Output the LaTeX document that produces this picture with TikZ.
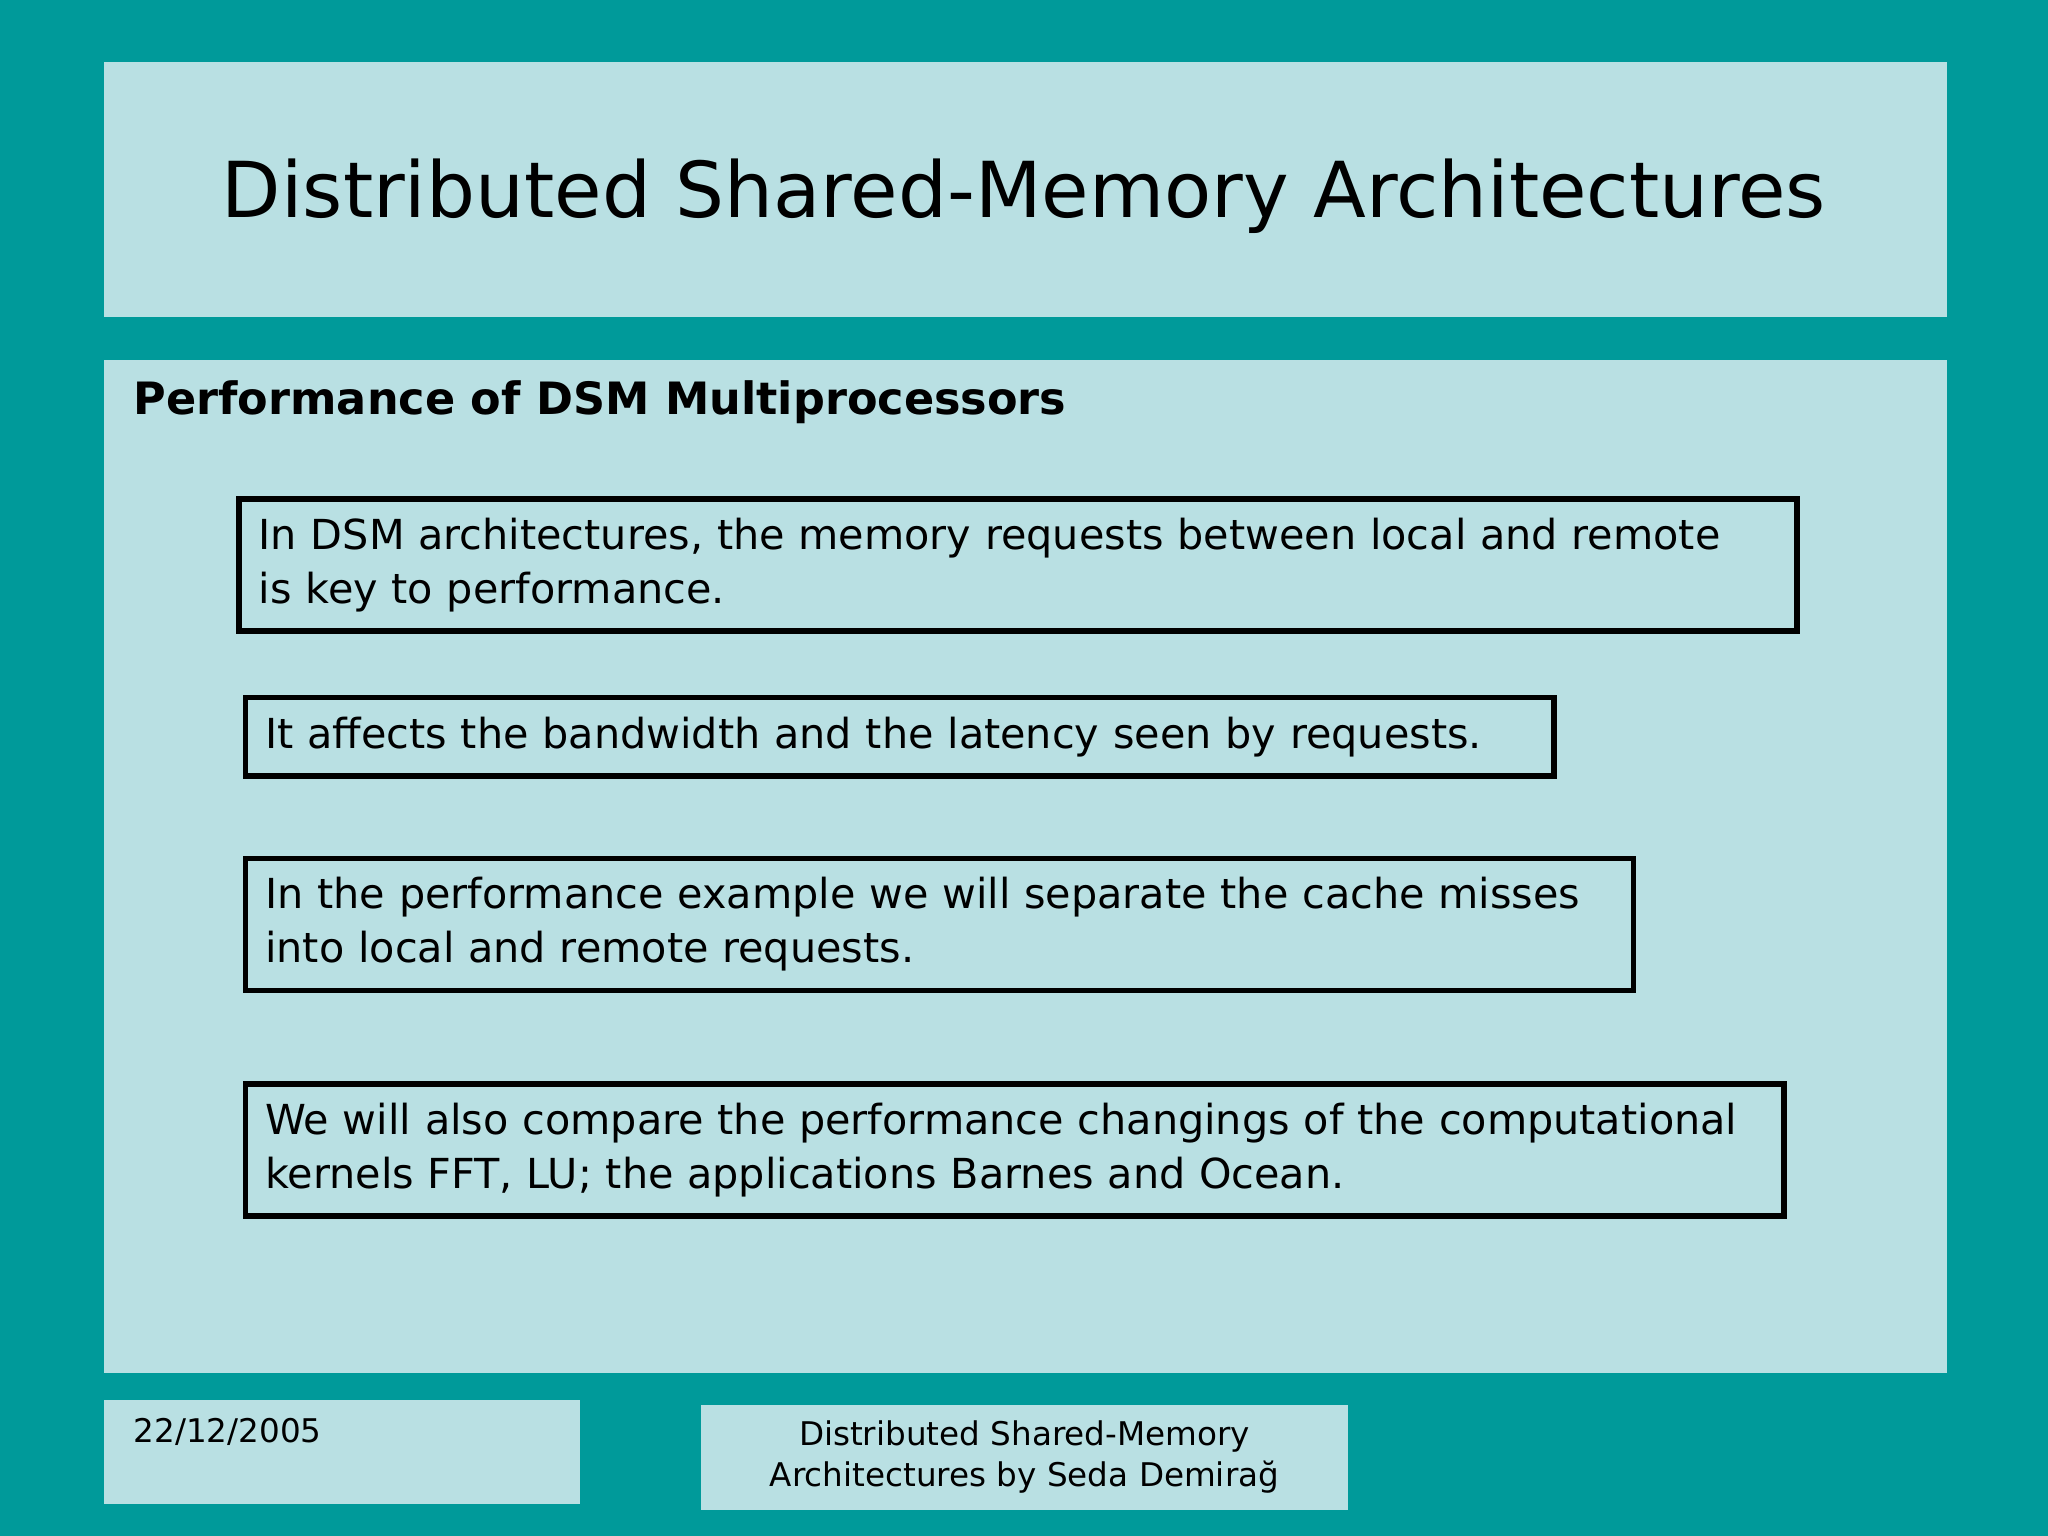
\documentclass[tikz,border=0pt]{standalone}
\usepackage{fontspec}
\setmainfont{DejaVu Sans}
\usetikzlibrary{positioning}
\definecolor{teal0}{HTML}{009A9A}
\definecolor{panel}{HTML}{B9E0E3}
\tikzset{panelbox/.style={fill=panel,draw=none,inner sep=0pt,anchor=north west}}
\tikzset{textbox/.style={draw,line width=1.2pt,anchor=north west,align=left,inner xsep=0.15cm,inner ysep=0.05cm,font=\fontsize{9}{11.9}\selectfont}}
\begin{document}
\begin{tikzpicture}[x=0.01cm,y=-0.01cm]
\fill[teal0] (0,0) rectangle (1568,1176);
\useasboundingbox (0,0) rectangle (1568,1176);

% Define panels
\node[panelbox,minimum width=14.10cm,minimum height=1.95cm] (head) at (79,47) {};
\node[panelbox,minimum width=14.10cm,minimum height=7.75cm] (body) at (79,275) {};
\node[panelbox,minimum width=3.64cm,minimum height=0.80cm] (date) at (79,1071) {};
\node[panelbox,minimum width=4.95cm,minimum height=0.80cm] (foot) at (536,1075) {};

% Add titles
\node[font=\fontsize{16.8}{20}\selectfont] at (784,150) {Distributed Shared-Memory Architectures};
\node[anchor=west,font=\bfseries\fontsize{9.7}{12}\selectfont] (sub) at (90,308) {Performance of DSM Multiprocessors};

% Define text boxes
\node[textbox,text width=11.62cm,minimum height=1.01cm] (b1) at (181,380) {In DSM architectures, the memory requests between local and remote\\is key to performance.};
\node[textbox,text width=9.71cm,minimum height=0.60cm] (b2) at (186,532) {It affects the bandwidth and the latency seen by requests.};
\node[textbox,text width=10.32cm,minimum height=1.01cm] (b3) at (186,655) {In the performance example we will separate the cache misses\\into local and remote requests.};
\node[textbox,text width=11.47cm,minimum height=1.01cm] (b4) at (186,828) {We will also compare the performance changings of the computational\\kernels FFT, LU; the applications Barnes and Ocean.};

% Add footer text
\node[anchor=west,font=\fontsize{7.1}{9}\selectfont] at (90,1096) {22/12/2005};
\node[align=center,font=\fontsize{7.1}{9}\selectfont] at (foot.center) {Distributed Shared-Memory\\Architectures by Seda Demirağ};
\end{tikzpicture}
\end{document}
